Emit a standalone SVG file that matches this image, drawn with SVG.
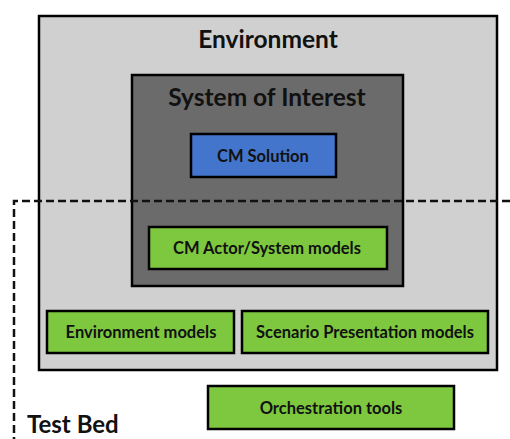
<svg xmlns="http://www.w3.org/2000/svg" width="510" height="439" viewBox="0 0 510 439">
  <style>
    text { font-family: Lato, "Liberation Sans", sans-serif; font-weight: bold; fill: #111; text-anchor: middle; }
    .box { stroke: #000; stroke-width: 2.5; }
    .green { fill: #7dc83e; }
    .lbl { font-size: 16.5px; }
    .title { font-size: 24.5px; }
    .dash { fill: none; stroke: #111; stroke-width: 2.5; stroke-dasharray: 8 4; }
  </style>
  <rect width="510" height="439" fill="#fff"/>

  <g id="environment">
    <rect class="box" x="39" y="16" width="458" height="354" fill="#d0d0d0"/>
    <text class="title" x="268" y="48">Environment</text>
  </g>

  <g id="system-of-interest">
    <rect class="box" x="132" y="75" width="271" height="211" fill="#6b6b6b"/>
    <text class="title" x="267" y="106">System of Interest</text>
  </g>

  <g id="cm-solution">
    <rect class="box" x="191" y="134" width="145" height="43" fill="#4475cc"/>
    <text class="lbl" x="263" y="162">CM Solution</text>
  </g>

  <g id="cm-actor-system-models">
    <rect class="box green" x="149" y="227" width="238" height="42"/>
    <text class="lbl" x="267" y="254">CM Actor/System models</text>
  </g>

  <g id="environment-models">
    <rect class="box green" x="47" y="311" width="187" height="42"/>
    <text class="lbl" x="141" y="338">Environment models</text>
  </g>

  <g id="scenario-presentation-models">
    <rect class="box green" x="242" y="311" width="246" height="42"/>
    <text class="lbl" x="365" y="338">Scenario Presentation models</text>
  </g>

  <g id="orchestration-tools">
    <rect class="box green" x="208" y="386" width="246" height="43"/>
    <text class="lbl" x="331" y="414">Orchestration tools</text>
  </g>

  <g id="test-bed">
    <polyline class="dash" points="510,201 14,201 14,439"/>
    <text x="27" y="433" font-size="24" style="text-anchor:start">Test Bed</text>
  </g>
</svg>
